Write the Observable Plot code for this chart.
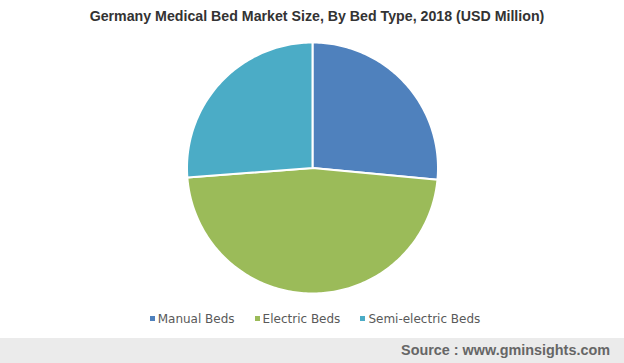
<!DOCTYPE html>
<html>
<head>
<meta charset="utf-8">
<script src="https://cdn.jsdelivr.net/npm/d3@7"></script>
<script src="https://cdn.jsdelivr.net/npm/@observablehq/plot@0.6"></script>
<style>
  html, body { margin: 0; padding: 0; background: #fff; }
  #wrap { position: relative; width: 624px; height: 363px; overflow: hidden; }
  #title { position: absolute; top: 8px; left: 5px; width: 624px; text-align: center;
    font: bold 14.2px "Liberation Sans", Arial, sans-serif; color: #333; }
  #chart { position: absolute; top: 0; left: 0; }
  #legend { position: absolute; top: 312px; left: 3px; width: 624px; text-align: center;
    font: 12px "DejaVu Sans", Verdana, sans-serif; color: #595959; white-space: nowrap; }
  #legend span.item { display: inline-block; margin: 0 10px; }
  #legend span.sw { display: inline-block; width: 5px; height: 5px; margin-right: 3px; vertical-align: 2px; }
  #source { position: absolute; top: 338px; left: 0; width: 624px; height: 25px; background: #ebebeb; }
  #source div { position: absolute; right: 14px; top: 4px;
    font: bold 14.4px "Liberation Sans", Arial, sans-serif; color: #666; }
</style>
</head>
<body>
<div id="wrap">
  <div id="chart"></div>
  <div id="title"></div>
  <div id="legend"></div>
  <div id="source"><div>Source : www.gminsights.com</div></div>
</div>
<script>
const titleText = "Germany Medical Bed Market Size, By Bed Type, 2018 (USD Million)";
const categories = ["Manual Beds", "Electric Beds", "Semi-electric Beds"];
const values = [26.5, 47.3, 26.2];
const colors = ["#4f81bd", "#9bbb59", "#4bacc6"];

document.getElementById("title").textContent = titleText;

// Build slice outlines (geometry from the values)
const total = d3.sum(values);
const pts = [];
let start = 0;
categories.forEach((name, i) => {
  const a0 = start / total * 2 * Math.PI;
  const a1 = (start + values[i]) / total * 2 * Math.PI;
  start += values[i];
  pts.push({name, x: 0, y: 0});
  const n = Math.max(2, Math.ceil((a1 - a0) / (Math.PI / 180)));
  for (let k = 0; k <= n; k++) {
    const a = a0 + (a1 - a0) * k / n;
    pts.push({name, x: Math.sin(a), y: Math.cos(a)});
  }
});

const plot = Plot.plot({
  width: 624,
  height: 338,
  marginLeft: 186.5,
  marginRight: 186.5,
  marginTop: 42,
  marginBottom: 45,
  x: {domain: [-1, 1], axis: null},
  y: {domain: [-1, 1], axis: null},
  color: {domain: categories, range: colors},
  style: {background: "transparent"},
  marks: [
    Plot.line(pts, {x: "x", y: "y", z: "name", fill: "name", stroke: "white",
      strokeWidth: 2, strokeLinejoin: "round", curve: "linear-closed"})
  ]
});
document.getElementById("chart").appendChild(plot);

const legend = document.getElementById("legend");
categories.forEach((c, i) => {
  const item = document.createElement("span");
  item.className = "item";
  const sw = document.createElement("span");
  sw.className = "sw";
  sw.style.background = colors[i];
  item.appendChild(sw);
  item.appendChild(document.createTextNode(c));
  legend.appendChild(item);
});
</script>
</body>
</html>
